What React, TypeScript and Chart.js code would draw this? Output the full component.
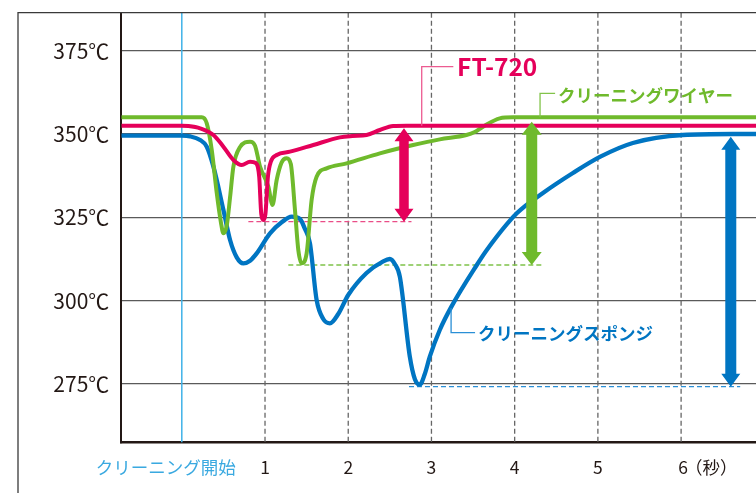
import { useEffect, useRef } from "react";
import { Chart, registerables } from "chart.js";

Chart.register(...registerables);

// ---- data (seconds, °C) ----
const ft720Time = [-0.727, 0, 0.08, 0.22, 0.38, 0.5, 0.62, 0.72, 0.82, 0.89, 0.93, 0.955, 0.98, 1.005, 1.035, 1.07, 1.14, 1.3, 1.58, 1.9, 2.05, 2.22, 2.38, 2.54, 2.7, 6.9];
const ft720Temp = [352.5, 352.5, 352.4, 351.7, 349.7, 346.2, 342.2, 340.7, 341.7, 341.3, 337.2, 326.0, 324.2, 326.0, 337.2, 341.7, 343.7, 344.7, 346.7, 349.0, 349.4, 349.7, 351.2, 352.4, 352.5, 352.5];

const wireTime = [-0.727, 0, 0.24, 0.3, 0.36, 0.42, 0.47, 0.5, 0.54, 0.58, 0.62, 0.7, 0.82, 0.88, 0.94, 1.04, 1.09, 1.14, 1.2, 1.26, 1.31, 1.36, 1.4, 1.44, 1.5, 1.56, 1.62, 1.74, 1.98, 2.38, 2.78, 3.1, 3.42, 3.52, 3.62, 3.82, 3.98, 6.9];
const wireTemp = [355, 355, 355, 353.2, 345.2, 332.3, 323.5, 320.2, 322.5, 331, 340.2, 346.1, 347.7, 346.5, 340.2, 334.2, 328.7, 336.2, 341.5, 342.7, 341, 327.2, 315.2, 311.2, 314.2, 330.2, 337.2, 339.7, 341.2, 344.2, 346.7, 348.4, 349.7, 350.6, 352.2, 354.7, 355, 355];

const spongeTime = [-0.727, 0, 0.1, 0.22, 0.3, 0.38, 0.5, 0.58, 0.66, 0.74, 0.82, 0.9, 1.06, 1.2, 1.32, 1.42, 1.48, 1.54, 1.62, 1.7, 1.78, 1.88, 2.0, 2.22, 2.42, 2.5, 2.56, 2.62, 2.74, 2.8, 2.86, 2.92, 2.98, 3.1, 3.24, 3.545, 3.665, 4.025, 4.34, 4.7, 5.03, 5.42, 6.02, 6.62, 6.9];
const spongeTemp = [349.5, 349.5, 349.3, 348.2, 346.2, 340.2, 327.2, 318.2, 313.0, 311.2, 312.0, 314.2, 320.2, 323.5, 325.2, 324.5, 321.5, 317.2, 300.2, 294.5, 293.2, 296.0, 301.7, 308.3, 311.8, 312.5, 311.0, 307.2, 283.2, 276.5, 274.8, 278.0, 283.2, 291.2, 298.2, 310.7, 315.2, 326.2, 332.3, 338.3, 343.2, 347.3, 349.7, 350.0, 350.0];

const yTickValues = [275, 300, 325, 350, 375];
const xTickValues = [1, 2, 3, 4, 5, 6];
const xTickLabels = ["1", "2", "3", "4", "5", "6"];
const startLabel = "クリーニング開始";
const unitLabel = "（秒）";

// recovery arrows: time, top temp, bottom temp (minimum)
const arrowTime = [2.67, 4.205, 6.597];
const arrowTopTemp = [351.7, 353.7, 349.2];
const arrowMinTemp = [323.7, 310.7, 274.2];
// dashed minimum guides: from / to time
const guideFrom = [0.8, 1.28, 2.73];
const guideTo = [2.76, 4.33, 6.71];

const seriesNames = ["FT-720", "クリーニングワイヤー", "クリーニングスポンジ"];

// ---- styles ----
const RED = "#e5005a";
const GREEN = "#6fba2c";
const BLUE = "#0075c2";
const CYAN = "#3fb2e8";
const INK = "#231815";
const JP = '"Noto Sans CJK JP", "Noto Sans", sans-serif';

const arrowStyle = [
  { color: RED, shaft: 9.5, head: 19, headLen: 13 },
  { color: GREEN, shaft: 11, head: 20, headLen: 13 },
  { color: BLUE, shaft: 11, head: 19, headLen: 13 },
];
const guideColor = ["#ea4d87", "#7fc24a", "#2a8fd6"];

const leaders = [
  { name: seriesNames[0], color: RED, line: "#ec5b91", ax: 2.883, ay: 352.5, ey: 370.2, ex: 3.263, tx: 3.308, font: `bold 24.5px ${JP}`, dy: 0 },
  { name: seriesNames[1], color: GREEN, line: "#82c34a", ax: 4.305, ay: 355, ey: 362.2, ex: 4.486, tx: 4.52, font: `bold 17.5px ${JP}`, dy: 1.5 },
  { name: seriesNames[2], color: BLUE, line: "#2a8fd6", ax: 3.236, ay: 297.8, ey: 290.4, ex: 3.524, tx: 3.56, font: `bold 17.5px ${JP}`, dy: 0.5 },
];

const zip = (xs: number[], ys: number[]) => xs.map((x, i) => ({ x, y: ys[i] }));

function drawDoubleArrow(ctx: CanvasRenderingContext2D, x: number, yT: number, yB: number, s: { color: string; shaft: number; head: number; headLen: number }) {
  const hs = s.shaft / 2, hh = s.head / 2, hl = s.headLen;
  ctx.fillStyle = s.color;
  ctx.beginPath();
  ctx.moveTo(x, yT);
  ctx.lineTo(x + hh, yT + hl);
  ctx.lineTo(x + hs, yT + hl);
  ctx.lineTo(x + hs, yB - hl);
  ctx.lineTo(x + hh, yB - hl);
  ctx.lineTo(x, yB);
  ctx.lineTo(x - hh, yB - hl);
  ctx.lineTo(x - hs, yB - hl);
  ctx.lineTo(x - hs, yT + hl);
  ctx.lineTo(x - hh, yT + hl);
  ctx.closePath();
  ctx.fill();
}

const decoPlugin = {
  id: "deco",
  beforeDatasetsDraw(chart: any) {
    const { ctx, chartArea: ca, scales } = chart;
    const x = scales.x, y = scales.y;
    ctx.save();
    // dashed second lines
    ctx.strokeStyle = "#666";
    ctx.lineWidth = 1.3;
    ctx.setLineDash([5, 3]);
    for (const v of xTickValues) {
      const px = x.getPixelForValue(v);
      ctx.beginPath();
      ctx.moveTo(px, ca.top);
      ctx.lineTo(px, ca.bottom);
      ctx.stroke();
    }
    // dashed min guides
    ctx.lineWidth = 1.3;
    ctx.setLineDash([5, 3]);
    arrowMinTemp.forEach((t, i) => {
      const py = y.getPixelForValue(t);
      ctx.strokeStyle = guideColor[i];
      ctx.beginPath();
      ctx.moveTo(x.getPixelForValue(guideFrom[i]), py);
      ctx.lineTo(x.getPixelForValue(guideTo[i]), py);
      ctx.stroke();
    });
    ctx.setLineDash([]);
    // cleaning start line
    const p0 = x.getPixelForValue(0);
    ctx.strokeStyle = CYAN;
    ctx.lineWidth = 1.5;
    ctx.beginPath();
    ctx.moveTo(p0, ca.top);
    ctx.lineTo(p0, ca.bottom);
    ctx.stroke();
    // outer frame
    ctx.strokeStyle = "#3a3a3a";
    ctx.lineWidth = 1.3;
    ctx.beginPath();
    ctx.moveTo(18, chart.height);
    ctx.lineTo(18, ca.top);
    ctx.lineTo(chart.width, ca.top);
    ctx.stroke();
    ctx.restore();
  },
  afterDatasetsDraw(chart: any) {
    const { ctx, chartArea: ca, scales } = chart;
    const x = scales.x, y = scales.y;
    ctx.save();
    // arrows
    arrowTime.forEach((t, i) => {
      drawDoubleArrow(ctx, x.getPixelForValue(t), y.getPixelForValue(arrowTopTemp[i]), y.getPixelForValue(arrowMinTemp[i]), arrowStyle[i]);
    });
    // leaders + labels
    for (const l of leaders) {
      const ax = x.getPixelForValue(l.ax);
      const ay = y.getPixelForValue(l.ay);
      const ey = y.getPixelForValue(l.ey);
      const ex = x.getPixelForValue(l.ex);
      ctx.strokeStyle = l.line;
      ctx.lineWidth = 1.3;
      ctx.beginPath();
      ctx.moveTo(ax, ay);
      ctx.lineTo(ax, ey);
      ctx.lineTo(ex, ey);
      ctx.stroke();
      ctx.fillStyle = l.color;
      ctx.font = l.font;
      ctx.textAlign = "left";
      ctx.textBaseline = "middle";
      ctx.fillText(l.name, x.getPixelForValue(l.tx), ey + l.dy);
    }
    // x labels
    const ly = ca.bottom + 25;
    ctx.textBaseline = "middle";
    ctx.font = `17.5px ${JP}`;
    ctx.fillStyle = INK;
    xTickValues.forEach((v, i) => {
      const px = x.getPixelForValue(v);
      if (i === xTickValues.length - 1) {
        ctx.textAlign = "center";
        ctx.fillText(xTickLabels[i], px + 2, ly);
        ctx.textAlign = "left";
        ctx.fillText(unitLabel, px + 4, ly);
      } else {
        ctx.textAlign = "center";
        ctx.fillText(xTickLabels[i], px, ly);
      }
    });
    ctx.fillStyle = "#3aa9e0";
    ctx.textAlign = "center";
    ctx.fillText(startLabel, x.getPixelForValue(0) - 16, ly);
    ctx.restore();
  },
};

export default function App() {
  const ref = useRef<HTMLCanvasElement | null>(null);
  useEffect(() => {
    if (!ref.current) return;
    const chart = new Chart(ref.current, {
      type: "line",
      data: {
        datasets: [
          { label: seriesNames[0], data: zip(ft720Time, ft720Temp), borderColor: RED, borderWidth: 4, pointRadius: 0, cubicInterpolationMode: "monotone", fill: false },
          { label: seriesNames[1], data: zip(wireTime, wireTemp), borderColor: GREEN, borderWidth: 4, pointRadius: 0, cubicInterpolationMode: "monotone", fill: false },
          { label: seriesNames[2], data: zip(spongeTime, spongeTemp), borderColor: BLUE, borderWidth: 4.3, pointRadius: 0, cubicInterpolationMode: "monotone", fill: false },
        ],
      },
      options: {
        animation: false,
        responsive: false,
        events: [],
        layout: { padding: { top: 12.7, left: 0, right: 0, bottom: 0 } },
        plugins: { legend: { display: false }, tooltip: { enabled: false } },
        scales: {
          x: {
            type: "linear",
            min: -0.727,
            max: 6.9,
            ticks: { display: false },
            grid: { display: false, drawTicks: false },
            border: { display: true, color: INK, width: 2.5 },
            afterFit: (s: any) => { s.height = 50.7; s.paddingLeft = 0; s.paddingRight = 0; },
          },
          y: {
            type: "linear",
            min: 257.5,
            max: 386.4,
            afterBuildTicks: (s: any) => { s.ticks = yTickValues.map((v) => ({ value: v })); },
            ticks: {
              callback: (v: any) => `${v}℃`,
              font: { family: JP, size: 21 },
              color: INK,
              padding: 12,
            },
            grid: { color: "#5a5a5a", lineWidth: 1.3, drawTicks: false },
            border: { display: true, color: INK, width: 2 },
            afterFit: (s: any) => { s.width = 121.3; s.paddingTop = 0; s.paddingBottom = 0; },
          },
        },
      },
      plugins: [decoPlugin],
    } as any);
    return () => chart.destroy();
  }, []);
  return (
    <div style={{ position: "absolute", left: 0, top: 0, width: 756, height: 493, background: "#fff" }}>
      <canvas ref={ref} width={756} height={493} style={{ display: "block" }} />
    </div>
  );
}
